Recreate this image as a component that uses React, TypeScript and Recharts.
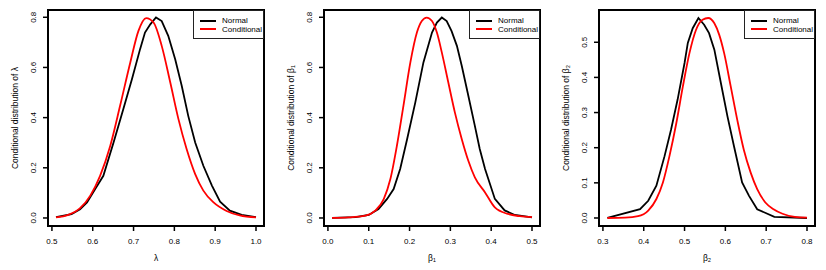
import React from "react";
import { LineChart, Line, XAxis, YAxis, Legend, Label } from "recharts";

const FONT = '"Liberation Sans", Arial, Helvetica, sans-serif';

// Panel 1: lambda
const lambdaNormalX = [0.51, 0.548, 0.569, 0.586, 0.606, 0.626, 0.651, 0.675, 0.696, 0.716, 0.728, 0.741, 0.755, 0.769, 0.785, 0.802, 0.818, 0.834, 0.851, 0.871, 0.892, 0.912, 0.936, 0.965, 1.0];
const lambdaNormalY = [0.003, 0.015, 0.035, 0.062, 0.115, 0.168, 0.301, 0.434, 0.553, 0.673, 0.739, 0.772, 0.799, 0.785, 0.726, 0.633, 0.527, 0.407, 0.301, 0.208, 0.129, 0.065, 0.029, 0.012, 0.003];
const lambdaCondX = [0.51, 0.54, 0.569, 0.594, 0.618, 0.643, 0.667, 0.692, 0.712, 0.731, 0.749, 0.769, 0.79, 0.81, 0.83, 0.851, 0.871, 0.896, 0.928, 0.96, 1.0];
const lambdaCondY = [0.002, 0.012, 0.039, 0.089, 0.168, 0.288, 0.447, 0.62, 0.746, 0.797, 0.779, 0.686, 0.54, 0.394, 0.275, 0.175, 0.109, 0.062, 0.028, 0.01, 0.002];

// Panel 2: beta1
const beta1NormalX = [0.01, 0.068, 0.1, 0.124, 0.145, 0.161, 0.177, 0.194, 0.214, 0.234, 0.255, 0.267, 0.279, 0.291, 0.303, 0.316, 0.328, 0.344, 0.36, 0.372, 0.385, 0.409, 0.433, 0.458, 0.5];
const beta1NormalY = [0.0, 0.003, 0.012, 0.036, 0.076, 0.115, 0.195, 0.314, 0.46, 0.62, 0.739, 0.779, 0.799, 0.785, 0.745, 0.686, 0.606, 0.487, 0.367, 0.275, 0.195, 0.076, 0.03, 0.012, 0.002];
const beta1CondX = [0.01, 0.05, 0.092, 0.116, 0.137, 0.153, 0.169, 0.185, 0.202, 0.218, 0.23, 0.242, 0.255, 0.267, 0.279, 0.295, 0.311, 0.328, 0.344, 0.36, 0.385, 0.409, 0.441, 0.47, 0.5];
const beta1CondY = [0.0, 0.002, 0.009, 0.029, 0.076, 0.155, 0.288, 0.447, 0.62, 0.739, 0.785, 0.799, 0.785, 0.739, 0.66, 0.54, 0.421, 0.314, 0.228, 0.162, 0.102, 0.042, 0.016, 0.007, 0.003];

// Panel 3: beta2
const beta2NormalX = [0.311, 0.391, 0.411, 0.431, 0.451, 0.467, 0.483, 0.5, 0.508, 0.52, 0.534, 0.548, 0.56, 0.573, 0.589, 0.605, 0.621, 0.641, 0.658, 0.678, 0.72, 0.8];
const beta2NormalY = [0.0, 0.025, 0.049, 0.092, 0.176, 0.252, 0.337, 0.441, 0.498, 0.54, 0.569, 0.55, 0.526, 0.479, 0.384, 0.29, 0.205, 0.101, 0.063, 0.025, 0.003, 0.0];
const beta2CondX = [0.311, 0.354, 0.386, 0.411, 0.431, 0.447, 0.463, 0.48, 0.496, 0.512, 0.528, 0.544, 0.558, 0.573, 0.585, 0.597, 0.613, 0.629, 0.645, 0.662, 0.678, 0.698, 0.718, 0.74, 0.77, 0.8];
const beta2CondY = [0.0, 0.001, 0.005, 0.021, 0.054, 0.101, 0.176, 0.271, 0.375, 0.469, 0.535, 0.564, 0.569, 0.554, 0.521, 0.469, 0.375, 0.28, 0.195, 0.129, 0.082, 0.044, 0.025, 0.012, 0.003, 0.001];

const lambdaXTicks = [0.5, 0.6, 0.7, 0.8, 0.9, 1.0];
const beta1XTicks = [0.0, 0.1, 0.2, 0.3, 0.4, 0.5];
const beta2XTicks = [0.3, 0.4, 0.5, 0.6, 0.7, 0.8];
const densityYTicks = [0.0, 0.2, 0.4, 0.6, 0.8];
const beta2YTicks = [0.0, 0.1, 0.2, 0.3, 0.4, 0.5];

const legendItems = [
  { name: "Normal", color: "#000000" },
  { name: "Conditional", color: "#ff0000" },
];

const zip = (xs: number[], ys: number[]) => xs.map((x, i) => ({ x, y: ys[i] }));

const PANEL_W = 275;
const PANEL_H = 270;
const MARGIN = { top: 10, right: 11, bottom: 0, left: 0 };
const Y_AXIS_W = 48;
const X_AXIS_H = 44;

function XTick({ x, y, payload }: any) {
  return (
    <text x={x} y={y + 10.5} textAnchor="middle" fontSize={8} fontFamily={FONT} fill="#000">
      {Number(payload.value).toFixed(1)}
    </text>
  );
}

function YTick({ x, y, payload }: any) {
  const tx = x - 5;
  return (
    <text
      x={tx}
      y={y}
      textAnchor="middle"
      transform={`rotate(-90 ${tx} ${y})`}
      fontSize={8}
      fontFamily={FONT}
      fill="#000"
    >
      {Number(payload.value).toFixed(1)}
    </text>
  );
}

function LegendBox() {
  return (
    <div
      style={{
        width: 71,
        height: 29,
        boxSizing: "border-box",
        border: "1px solid #222",
        background: "#fff",
        fontFamily: FONT,
        fontSize: 8,
        position: "relative",
      }}
    >
      {legendItems.map((it, i) => (
        <div key={it.name} style={{ position: "absolute", left: 6, top: 5 + i * 8.7, height: 9, display: "flex", alignItems: "center" }}>
          <span style={{ width: 16, height: 2, background: it.color, display: "inline-block" }} />
          <span style={{ marginLeft: 6, color: "#000", lineHeight: "9px" }}>{it.name}</span>
        </div>
      ))}
    </div>
  );
}

interface PanelProps {
  normal: { x: number; y: number }[];
  cond: { x: number; y: number }[];
  xDomain: [number, number];
  yDomain: [number, number];
  xTicks: number[];
  yTicks: number[];
  xTitle: string;
  yTitle: string;
}

function Panel({ normal, cond, xDomain, yDomain, xTicks, yTicks, xTitle, yTitle }: PanelProps) {
  const plotX = MARGIN.left + Y_AXIS_W;
  const plotW = PANEL_W - MARGIN.left - MARGIN.right - Y_AXIS_W;
  const plotH = PANEL_H - MARGIN.top - MARGIN.bottom - X_AXIS_H;
  return (
    <div style={{ position: "relative", width: PANEL_W, height: PANEL_H, flex: "none" }}>
      <LineChart width={PANEL_W} height={PANEL_H} margin={MARGIN}>
        <XAxis
          type="number"
          dataKey="x"
          domain={xDomain}
          allowDataOverflow
          ticks={xTicks}
          interval={0}
          tick={XTick}
          tickSize={5}
          tickMargin={2}
          height={X_AXIS_H}
          axisLine={{ stroke: "#000", strokeWidth: 2 }}
          tickLine={{ stroke: "#000", strokeWidth: 1.5 }}
        >
          <Label
            content={(p: any) => {
              const vb = p.viewBox || { x: 48, y: 226, width: 216 };
              return (
                <text x={vb.x + vb.width / 2} y={vb.y + 35} textAnchor="middle" fontSize={8.5} fontFamily={FONT} fill="#000">
                  {xTitle}
                </text>
              );
            }}
          />
        </XAxis>
        <YAxis
          type="number"
          domain={yDomain}
          allowDataOverflow
          ticks={yTicks}
          interval={0}
          tick={YTick}
          tickSize={5}
          tickMargin={2}
          width={Y_AXIS_W}
          axisLine={{ stroke: "#000", strokeWidth: 2 }}
          tickLine={{ stroke: "#000", strokeWidth: 1.5 }}
        >
          <Label
            content={(p: any) => {
              const vb = p.viewBox || { x: 0, y: 10, height: 216 };
              const cx = 17.5;
              const cy = vb.y + vb.height / 2;
              return (
                <text x={cx} y={cy} textAnchor="middle" transform={`rotate(-90 ${cx} ${cy})`} fontSize={8.5} fontFamily={FONT} fill="#000">
                  {yTitle}
                </text>
              );
            }}
          />
        </YAxis>
        <Legend
          layout="horizontal"
          verticalAlign="middle"
          align="center"
          wrapperStyle={{ position: "absolute", top: 10, right: 11, left: "auto", bottom: "auto", width: 71, zIndex: 2 }}
          content={() => <LegendBox />}
        />
        <Line
          data={normal}
          dataKey="y"
          name="Normal"
          type="linear"
          stroke="#000000"
          strokeWidth={1.8}
          dot={false}
          activeDot={false}
          isAnimationActive={false}
        />
        <Line
          data={cond}
          dataKey="y"
          name="Conditional"
          type="monotone"
          stroke="#ff0000"
          strokeWidth={1.8}
          dot={false}
          activeDot={false}
          isAnimationActive={false}
        />
      </LineChart>
      {/* plot frame (R's box()) */}
      <svg width={PANEL_W} height={PANEL_H} style={{ position: "absolute", left: 0, top: 0, pointerEvents: "none" }}>
        <rect x={plotX} y={MARGIN.top} width={plotW} height={plotH} fill="none" stroke="#000" strokeWidth={2} />
      </svg>
    </div>
  );
}

export default function App() {
  return (
    <div
      style={{
        position: "relative",
        display: "flex",
        width: 826,
        height: 270,
        marginLeft: -8,
        marginTop: -8,
        background: "#fff",
      }}
    >
      <Panel
        normal={zip(lambdaNormalX, lambdaNormalY)}
        cond={zip(lambdaCondX, lambdaCondY)}
        xDomain={[0.4904, 1.0196]}
        yDomain={[-0.032, 0.829]}
        xTicks={lambdaXTicks}
        yTicks={densityYTicks}
        xTitle="λ"
        yTitle="Conditional distribution of λ"
      />
      <div style={{ width: 1, flex: "none" }} />
      <Panel
        normal={zip(beta1NormalX, beta1NormalY)}
        cond={zip(beta1CondX, beta1CondY)}
        xDomain={[-0.0096, 0.5196]}
        yDomain={[-0.032, 0.829]}
        xTicks={beta1XTicks}
        yTicks={densityYTicks}
        xTitle="β₁"
        yTitle="Conditional distribution of β₁"
      />
      <Panel
        normal={zip(beta2NormalX, beta2NormalY)}
        cond={zip(beta2CondX, beta2CondY)}
        xDomain={[0.2904, 0.8196]}
        yDomain={[-0.0228, 0.5918]}
        xTicks={beta2XTicks}
        yTicks={beta2YTicks}
        xTitle="β₂"
        yTitle="Conditional distribution of β₂"
      />
    </div>
  );
}
